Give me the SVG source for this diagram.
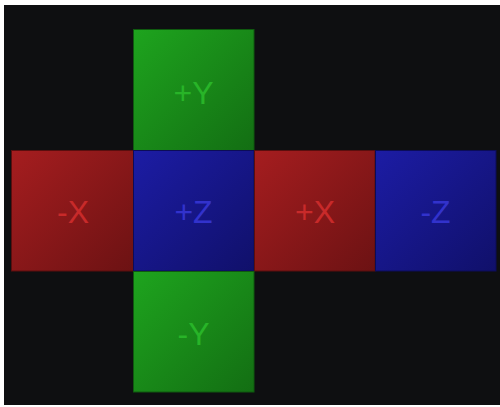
<svg xmlns="http://www.w3.org/2000/svg" width="500" height="407" viewBox="0 0 500 407">
<defs>
<linearGradient id="gG" x1="0" y1="0" x2="1" y2="1"><stop offset="0" stop-color="#1ea41e"/><stop offset="1" stop-color="#136e13"/></linearGradient>
<linearGradient id="gR" x1="0" y1="0" x2="1" y2="1"><stop offset="0" stop-color="#a51d1f"/><stop offset="1" stop-color="#6c1213"/></linearGradient>
<linearGradient id="gB" x1="0" y1="0" x2="1" y2="1"><stop offset="0" stop-color="#1c1ca4"/><stop offset="1" stop-color="#10106a"/></linearGradient>
</defs>
<style>
.face{stroke-width:1}
.g{fill:url(#gG);stroke:#0f5a0f}
.r{fill:url(#gR);stroke:#5a0e0e}
.b{fill:url(#gB);stroke:#0c0c58}
text{font-family:"Liberation Sans",Arial,sans-serif;font-size:32px;text-anchor:middle}
.tg{fill:#28b428}
.tr{fill:#c82a2a}
.tb{fill:#3232cc}
</style>
<rect x="0" y="0" width="500" height="407" fill="#ffffff"/>
<rect x="4" y="5" width="496" height="400" fill="#0e0f11"/>
<g id="posY"><rect class="face g" x="133.5" y="29.5" width="120.5" height="121"/><text class="tg" x="193.5" y="104">+Y</text></g>
<g id="negX"><rect class="face r" x="11.5" y="150.5" width="122" height="120.5"/><text class="tr" x="73" y="223">-X</text></g>
<g id="posZ"><rect class="face b" x="133.5" y="150.5" width="120.5" height="120.5"/><text class="tb" x="193.5" y="223">+Z</text></g>
<g id="posX"><rect class="face r" x="254.5" y="150.5" width="120.5" height="120.5"/><text class="tr" x="315" y="223">+X</text></g>
<g id="negZ"><rect class="face b" x="375.5" y="150.5" width="120.5" height="120.5"/><text class="tb" x="435.5" y="223">-Z</text></g>
<g id="negY"><rect class="face g" x="133.5" y="271.5" width="120.5" height="120.5"/><text class="tg" x="193.5" y="345">-Y</text></g>
<g id="connectors"></g>
</svg>
